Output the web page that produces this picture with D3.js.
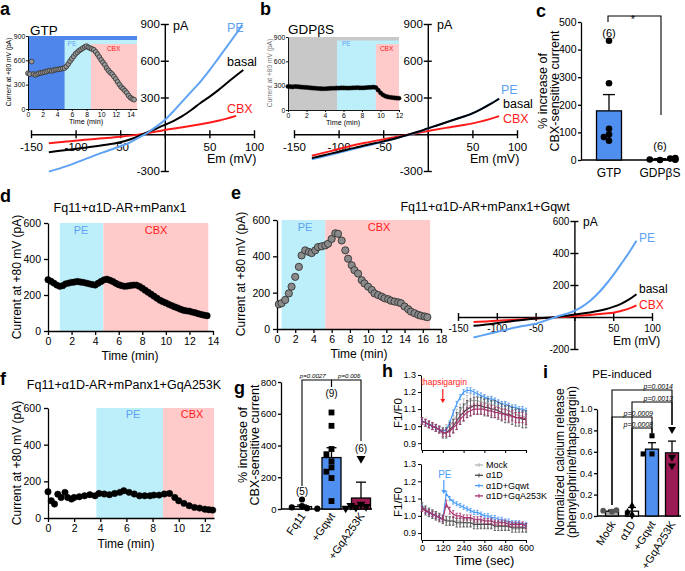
<!DOCTYPE html>
<html><head><meta charset="utf-8">
<script src="https://cdn.jsdelivr.net/npm/d3@7/dist/d3.min.js"></script>
<style>
html,body{margin:0;padding:0;background:#fff;}
svg{display:block;font-family:"Liberation Sans",Arial,Helvetica,sans-serif;}
</style></head><body>
<svg id="chart" width="685" height="571"></svg>
<script>
// ======================= DATA =======================
// a – inset: current at +80 mV vs time (GTP in pipette)
const aInsetTime = [0,0.25,0.5,0.75,1,1.25,1.5,1.75,2,2.25,2.5,2.75,3,3.25,3.5,3.75,4,4.25,4.5,4.75,5,5.25,5.5,5.75,6,6.25,6.5,6.75,7,7.25,7.5,7.75,8,8.25,8.5,8.75,9,9.25,9.5,9.75,10,10.25,10.5,10.75,11,11.25,11.5,11.75,12,12.25,12.5,12.75,13,13.25,13.5,13.75,14,14.25,14.5];
const aInsetCurrent = [440,430,585,430,420,430,440,445,450,455,460,470,475,470,478,485,488,490,495,500,505,525,555,590,620,650,680,700,720,735,750,765,775,760,750,740,730,705,675,640,605,575,545,505,475,450,430,400,370,335,300,270,250,225,200,165,140,125,115];
const aPhaseStart = [0, 5, 8.6];        // GTP, PE, CBX (min)
const aInsetEnd = 14.9;
// a – I-V curves [Em (mV), I (pA)]
const ivA_PE    = [[-130,-305],[-110,-260],[-90,-205],[-70,-150],[-50,-98],[-40,-70],[-30,-30],[-20,10],[-10,60],[0,116],[10,190],[20,270],[30,350],[40,430],[50,521],[60,620],[70,720],[80,820],[87,895]];
const ivA_Basal = [[-130,-146],[-110,-128],[-90,-110],[-70,-90],[-50,-65],[-40,-45],[-30,-18],[-20,15],[-10,45],[0,76],[10,110],[20,150],[30,200],[40,255],[50,305],[60,360],[70,420],[80,480],[88,525]];
const ivA_CBX   = [[-130,-73],[-110,-60],[-90,-45],[-70,-33],[-50,-20],[-30,-3],[-20,8],[0,35],[20,57],[40,82],[60,110],[80,150]];

// b – inset (GDPβS)
const bInsetTime = [0,0.25,0.5,0.75,1,1.25,1.5,1.75,2,2.25,2.5,2.75,3,3.25,3.5,3.75,4,4.25,4.5,4.75,5,5.25,5.5,5.75,6,6.25,6.5,6.75,7,7.25,7.5,7.75,8,8.25,8.5,8.75,9,9.25,9.5,9.75,10,10.25,10.5,10.75,11,11.25,11.5,11.75,12];
const bInsetCurrent = [290,288,285,290,288,285,282,280,278,275,272,270,268,265,263,262,262,264,266,268,268,270,270,272,272,271,270,271,273,274,275,273,272,274,276,278,279,282,276,245,212,188,172,163,157,153,150,147,145];
const bPhaseStart = [0, 5.3, 9.5];
const bInsetEnd = 12;
const ivB_PE    = [[-130,-205],[-110,-170],[-90,-133],[-70,-97],[-50,-62],[-30,-22],[-10,20],[0,47],[10,72],[30,120],[50,170],[60,207],[70,248],[80,292]];
const ivB_Basal = [[-130,-195],[-110,-160],[-90,-125],[-70,-90],[-50,-58],[-30,-20],[-10,22],[0,48],[10,72],[30,120],[50,170],[60,205],[70,245],[80,290]];
const ivB_CBX   = [[-130,-175],[-110,-140],[-90,-102],[-70,-70],[-50,-42],[-30,-15],[-20,0],[0,27],[20,52],[40,75],[60,105],[80,148]];

// c – % increase of CBX-sensitive current
const cGroups = ["GTP","GDPβS"];
const cMean = [178, 3];
const cSem  = [59, 2];
const cPoints = [[432,278,113,92,83,70],[0,2,5,3,7,1]];
const cN = ["(6)","(6)"];

// d – Fq11+α1D-AR+mPanx1
const dTime = [0,0.25,0.5,0.75,1,1.25,1.5,1.75,2,2.25,2.5,2.75,3,3.25,3.5,3.75,4,4.25,4.5,4.75,5,5.25,5.5,5.75,6,6.25,6.5,6.75,7,7.25,7.5,7.75,8,8.25,8.5,8.75,9,9.25,9.5,9.75,10,10.25,10.5,10.75,11,11.25,11.5,11.75,12,12.25,12.5,12.75,13,13.25,13.5];
const dCurrent = [285,276,266,255,248,252,262,266,270,272,275,272,270,266,262,258,255,265,275,284,288,282,275,265,257,252,248,250,253,255,255,248,238,226,215,204,193,182,171,163,156,148,141,134,128,121,115,112,110,105,101,96,92,88,85];
const dPE = [1, 4.7], dCBX = [4.7, 13.6];

// e – Fq11+α1D-AR+mPanx1+Gqwt
const eTime = [0.2,0.5,0.9,1.3,1.6,2.0,2.4,2.7,3.1,3.5,3.8,4.2,4.5,4.9,5.3,5.6,6.0,6.4,6.7,7.1,7.5,7.8,8.2,8.5,8.9,9.3,9.6,10.0,10.4,10.7,11.1,11.5,11.8,12.2,12.5,12.9,13.3,13.6,14.0,14.4,14.7,15.1,15.5,15.8,16.2,16.5];
const eCurrent = [136,142,160,196,233,287,342,405,433,424,418,433,451,455,460,469,496,527,524,487,433,387,351,324,305,269,251,233,215,196,187,178,169,164,156,151,147,142,124,109,96,87,78,73,69,65];
const ePE = [0.5, 5.3], eCBX = [5.3, 16.8];
const ivE_PE    = [[-130,-128],[-110,-105],[-90,-82],[-70,-60],[-50,-42],[-30,-10],[-20,6],[-10,20],[0,38],[10,65],[20,100],[30,145],[40,200],[50,262],[60,330],[70,400],[80,477]];
const ivE_Basal = [[-130,-55],[-110,-45],[-90,-32],[-70,-20],[-50,-10],[-30,-3],[-10,8],[0,15],[20,28],[40,48],[50,63],[60,82],[70,108],[80,142]];
const ivE_CBX   = [[-130,-32],[-110,-27],[-90,-20],[-70,-15],[-50,-10],[-30,-4],[-10,2],[0,6],[20,13],[40,22],[50,27],[60,38],[70,52],[80,73]];

// f – Fq11+α1D-AR+mPanx1+GqA253K
const fTime = [0,0.25,0.5,0.75,1.0,1.3,1.5,1.8,2.0,2.4,2.8,3.2,3.6,3.9,4.3,4.7,5.1,5.5,5.8,6.2,6.6,7.0,7.4,7.8,8.1,8.5,8.9,9.3,9.7,10.0,10.4,10.8,11.2,11.6,12.0,12.3,12.6];
const fCurrent = [143,94,76,130,112,140,112,103,112,116,121,127,121,134,131,127,134,140,149,140,131,121,121,121,125,125,131,134,112,94,80,67,58,54,48,45,43];
const fPE = [3.7, 8.8], fCBX = [8.8, 12.7];

// g – % increase of CBX-sensitive current
const gGroups = ["Fq11","+Gqwt","+GqA253K"];
const gMean = [15, 324, 69];
const gSem  = [10, 62, 100];
const gPoints = [[60,18,10,5,2],[608,524,378,345,300,262,235,195,50],[318,30,22,15,10,5]];
const gN = ["(5)","(9)","(6)"];
const gP = ["p=0.0027","p=0.006"];

// h – F1/F0 time courses (sec)
const hTime = [0,20,40,60,80,100,120,140,160,180,200,220,240,260,280,300,320,340,360,380,400,420,440,460,480,500,520,540,560,580,600];
const hSeries = ["Mock","α1D","α1D+Gqwt","α1D+GqA253K"];
const hTopMock  = [1.03,1.02,1.01,1.00,0.99,0.98,0.97,0.98,1.00,1.03,1.06,1.09,1.12,1.14,1.15,1.15,1.15,1.14,1.14,1.13,1.13,1.12,1.11,1.10,1.10,1.09,1.08,1.07,1.06,1.06,1.05];
const hTopMockErr = [0.02,0.02,0.02,0.02,0.02,0.02,0.02,0.03,0.03,0.03,0.04,0.04,0.04,0.04,0.04,0.04,0.04,0.04,0.04,0.04,0.04,0.04,0.04,0.04,0.04,0.04,0.04,0.04,0.04,0.04,0.04];
const hTopA1D   = [1.03,1.02,1.01,1.00,0.99,0.98,0.96,0.96,0.98,1.00,1.03,1.06,1.08,1.10,1.11,1.12,1.12,1.12,1.11,1.11,1.10,1.10,1.09,1.08,1.07,1.07,1.06,1.05,1.05,1.04,1.04];
const hTopA1DErr = [0.02,0.02,0.02,0.02,0.02,0.02,0.03,0.03,0.04,0.04,0.05,0.05,0.05,0.05,0.05,0.05,0.05,0.05,0.05,0.05,0.05,0.05,0.05,0.05,0.05,0.05,0.05,0.05,0.05,0.05,0.05];
const hTopGqwt  = [1.03,1.02,1.01,1.00,0.99,0.98,0.97,0.98,1.02,1.08,1.13,1.17,1.20,1.21,1.21,1.20,1.19,1.18,1.17,1.16,1.16,1.15,1.14,1.13,1.13,1.12,1.11,1.11,1.10,1.10,1.09];
const hTopGqwtErr = [0.01,0.01,0.01,0.01,0.01,0.01,0.01,0.01,0.01,0.015,0.015,0.015,0.015,0.015,0.015,0.015,0.015,0.015,0.015,0.015,0.015,0.015,0.015,0.015,0.015,0.015,0.015,0.015,0.015,0.015,0.015];
const hTopGqA   = [1.03,1.02,1.01,1.00,0.99,0.98,0.96,0.96,0.97,0.99,1.01,1.04,1.06,1.08,1.09,1.10,1.10,1.10,1.10,1.09,1.09,1.08,1.08,1.07,1.07,1.06,1.06,1.05,1.05,1.05,1.04];
const hTopGqAErr = [0.02,0.02,0.02,0.02,0.02,0.02,0.02,0.02,0.03,0.03,0.03,0.03,0.03,0.03,0.03,0.03,0.03,0.03,0.03,0.03,0.03,0.03,0.03,0.03,0.03,0.03,0.03,0.03,0.03,0.03,0.03];
const hBotMock  = [1.06,1.04,1.02,1.01,1.00,0.99,0.98,0.98,0.97,0.97,0.97,0.97,0.96,0.96,0.96,0.96,0.96,0.95,0.95,0.95,0.95,0.95,0.95,0.94,0.94,0.94,0.94,0.94,0.94,0.93,0.93];
const hBotMockErr = [0.02,0.02,0.02,0.02,0.02,0.02,0.02,0.02,0.02,0.02,0.02,0.02,0.02,0.02,0.02,0.02,0.02,0.02,0.02,0.02,0.02,0.02,0.02,0.02,0.02,0.02,0.02,0.02,0.02,0.02,0.02];
const hBotA1D   = [1.05,1.03,1.02,1.01,1.00,0.99,0.98,0.97,0.97,0.97,0.96,0.96,0.96,0.96,0.96,0.95,0.95,0.95,0.95,0.95,0.95,0.94,0.94,0.94,0.94,0.94,0.93,0.93,0.93,0.93,0.93];
const hBotA1DErr = [0.025,0.025,0.025,0.025,0.025,0.025,0.025,0.025,0.025,0.025,0.025,0.025,0.025,0.025,0.025,0.025,0.025,0.025,0.025,0.025,0.025,0.025,0.025,0.025,0.025,0.025,0.025,0.025,0.025,0.025,0.025];
const hBotGqwt  = [1.05,1.03,1.02,1.01,1.00,0.99,0.98,1.13,1.10,1.08,1.07,1.06,1.05,1.04,1.03,1.02,1.02,1.01,1.00,1.00,0.99,0.99,0.98,0.98,0.97,0.97,0.96,0.96,0.96,0.95,0.95];
const hBotGqwtErr = [0.012,0.012,0.012,0.012,0.012,0.012,0.012,0.012,0.012,0.012,0.012,0.012,0.012,0.012,0.012,0.012,0.012,0.012,0.012,0.012,0.012,0.012,0.012,0.012,0.012,0.012,0.012,0.012,0.012,0.012,0.012];
const hBotGqA   = [1.04,1.03,1.02,1.01,1.00,0.99,0.98,1.07,1.03,1.01,1.00,1.00,0.99,0.99,0.99,0.98,0.98,0.98,0.97,0.97,0.97,0.96,0.96,0.96,0.96,0.95,0.95,0.95,0.95,0.95,0.94];
const hBotGqAErr = [0.015,0.015,0.015,0.015,0.015,0.015,0.015,0.02,0.02,0.02,0.015,0.015,0.015,0.015,0.015,0.015,0.015,0.015,0.015,0.015,0.015,0.015,0.015,0.015,0.015,0.015,0.015,0.015,0.015,0.015,0.015];
const hTicksX = [0,120,240,360,480,600];
const hTicksY = [0.9,1.0,1.1,1.2,1.3];

// i – PE-induced normalized calcium release
const iGroups = ["Mock","α1D","+Gqwt","+GqA253K"];
const iMean = [0.045, 0.045, 0.625, 0.59];
const iSem  = [0.01, 0.035, 0.06, 0.11];
const iPoints = [[0.04,0.05,0.055],[0.01,0.03,0.09],[0.75,0.58,0.58],[0.81,0.55,0.47]];
const iPairs = [["Mock","+GqA253K","p=0.0014"],["α1D","+GqA253K","p=0.0013"],["Mock","+Gqwt","p=0.0009"],["α1D","+Gqwt","p=0.0008"]];

// ======================= DRAWING =======================
const svg = d3.select("#chart");
const FONT = '"Liberation Sans", Arial, Helvetica, sans-serif';
const COL = {pe:"#5ea2f4", peBg:"#bdeffb", cbxBg:"#ffcaca", red:"#ff1a1a", gtpBg:"#4f86ec",
             gdpBg:"#c8c8c8", bar:"#4f8ff0", mag:"#9c1b52", mock:"#b3b3b3", a1d:"#4a4a4a",
             gqwt:"#4d9cf7", gqa:"#a8336e"};

function label(x, y, s, o = {}) {
  const t = svg.append("text").attr("x", x).attr("y", y).text(s)
    .attr("font-size", o.size || 11).attr("fill", o.fill || "#000")
    .attr("text-anchor", o.anchor || "start");
  if (o.bold) t.attr("font-weight", "bold");
  if (o.italic) t.attr("font-style", "italic");
  if (o.rot !== undefined) t.attr("transform", `rotate(${o.rot},${x},${y})`);
  return t;
}
function styleAxis(g, size, w) {
  g.attr("font-family", FONT).attr("font-size", size);
  g.selectAll("path,line").attr("stroke", "#000").attr("stroke-width", w);
  g.selectAll("text").attr("fill", "#000");
  return g;
}
const fmtInt = d => (d === 0 ? "" : String(d));

// ---------- I-V panels ----------
function ivPanel(o) {
  const x = d3.scaleLinear().domain([-150, 100]).range(o.xr);
  const y = d3.scaleLinear().domain(o.yd).range(o.yr);
  const line = d3.line().x(d => x(d[0])).y(d => y(d[1])).curve(d3.curveMonotoneX);
  const gx = svg.append("g").attr("transform", `translate(0,${y(0)})`)
    .call(d3.axisBottom(x).tickValues([-150, -100, -50, 0, 50, 100]).tickSizeInner(4).tickSizeOuter(0)
      .tickPadding(o.xpad).tickFormat(fmtInt));
  gx.selectAll(".tick line").attr("y1", -4).attr("y2", 4);
  styleAxis(gx, o.fs, 1.4);
  const gy = svg.append("g").attr("transform", `translate(${x(0)},0)`)
    .call(d3.axisLeft(y).tickValues(o.yt).tickSizeInner(4).tickSizeOuter(0).tickPadding(1).tickFormat(fmtInt));
  gy.selectAll(".tick line").attr("x1", -4).attr("x2", 4);
  styleAxis(gy, o.fs, 1.4);
  o.curves.forEach(c => svg.append("path").datum(c.data).attr("d", line)
    .attr("fill", "none").attr("stroke", c.color).attr("stroke-width", 2));
  return {x, y};
}

// ---------- time-course panels ----------
function tracePanel(o) {
  const x = d3.scaleLinear().domain(o.xd).range(o.xr);
  const y = d3.scaleLinear().domain(o.yd).range(o.yr);
  const g = svg.append("g");
  o.phases.forEach((p, i) => {
    const top = o.layered ? o.yr[1] + i * o.layered : y(o.yd[1]);
    g.append("rect").attr("x", x(p.from)).attr("y", top)
      .attr("width", x(p.to) - x(p.from)).attr("height", o.yr[0] - top).attr("fill", p.color);
  });
  const gx = g.append("g").attr("transform", `translate(0,${o.yr[0]})`)
    .call(d3.axisBottom(x).tickValues(o.xt).tickSizeInner(o.tick).tickSizeOuter(0).tickPadding(o.pad));
  styleAxis(gx, o.fs, o.sw);
  const gy = g.append("g").attr("transform", `translate(${o.xr[0]},0)`)
    .call(d3.axisLeft(y).tickValues(o.yt).tickSizeInner(o.tick).tickSizeOuter(0).tickPadding(o.pad));
  styleAxis(gy, o.fs, o.sw);
  g.append("g").selectAll("circle").data(d3.zip(o.t, o.v)).join("circle")
    .attr("cx", d => x(d[0])).attr("cy", d => y(d[1])).attr("r", o.r)
    .attr("fill", o.fill).attr("stroke", o.stroke).attr("stroke-width", o.psw);
  return {x, y};
}

// ---------- bar panels ----------
function swarm(vals, y, r) {
  const placed = [];
  return vals.map(v => {
    const py = y(v); let dx = 0;
    for (const k of [0, -1, 1, -2, 2, -3, 3]) {
      dx = k * r * 1.7;
      if (!placed.some(p => Math.hypot(p[0] - dx, p[1] - py) < r * 1.8)) break;
    }
    placed.push([dx, py]);
    return [dx, py];
  });
}
function barPanel(o) {
  const x = d3.scalePoint().domain(o.groups).range(o.xr);
  const y = d3.scaleLinear().domain(o.yd).range(o.yr);
  const g = svg.append("g");
  const gy = g.append("g").attr("transform", `translate(${o.axisX},0)`)
    .call(d3.axisLeft(y).tickValues(o.yt).tickSizeInner(3).tickSizeOuter(0).tickPadding(1.5).tickFormat(o.fmt));
  styleAxis(gy, o.fs, 1.3);
  const gx = g.append("g").attr("transform", `translate(0,${y(0)})`)
    .call(d3.axisBottom(x).tickSize(0).tickFormat(""));
  gx.select(".domain").attr("d", `M${o.axisX},0H${o.axisEnd}`);
  styleAxis(gx, o.fs, 1.3);
  o.groups.forEach((k, i) => {
    const cx = x(k), m = o.mean[i], s = o.sem[i];
    g.append("line").attr("x1", cx).attr("x2", cx).attr("y1", y(m)).attr("y2", y(m + s))
      .attr("stroke", "#000").attr("stroke-width", 1.3);
    g.append("line").attr("x1", cx - o.cap).attr("x2", cx + o.cap).attr("y1", y(m + s)).attr("y2", y(m + s))
      .attr("stroke", "#000").attr("stroke-width", 1.3);
    g.append("rect").attr("x", cx - o.bw / 2).attr("y", y(m)).attr("width", o.bw)
      .attr("height", Math.max(0, y(0) - y(m))).attr("fill", o.fills[i])
      .attr("stroke", "#000").attr("stroke-width", 1.3);
    const pos = swarm(o.points[i], y, o.r);
    g.append("g").selectAll("path").data(pos).join("path")
      .attr("d", d3.symbol().type(o.symbols[i].type).size(o.symbols[i].size))
      .attr("fill", o.symbols[i].fill || "#000")
      .attr("transform", d => `translate(${cx + d[0]},${d[1]})` + (o.symbols[i].flip ? " rotate(180)" : ""));
  });
  return {x, y};
}
function bracket(x1, x2, yTop, y1b, y2b) {
  svg.append("path").attr("d", `M${x1},${y1b}V${yTop}H${x2}V${y2b}`)
    .attr("fill", "none").attr("stroke", "#000").attr("stroke-width", 1.1);
}

// ======================= PANEL a =======================
label(0, 15, "a", {size: 18, bold: true});
const ivA = ivPanel({xr: [31, 254], yd: [-300, 900], yr: [171, 24], yt: [900, 600, 300, -300], fs: 11.5, xpad: 5,
  curves: [{data: ivA_CBX, color: COL.red}, {data: ivA_Basal, color: "#000"}, {data: ivA_PE, color: COL.pe}]});
label(173, 30, "pA", {size: 12.5});
label(227, 32, "PE", {size: 12.5, fill: COL.pe});
label(227, 66, "basal", {size: 12.5});
label(227, 113, "CBX", {size: 12.5, fill: COL.red});
label(207, 163, "Em (mV)", {size: 12.5});

const aCols = [COL.gtpBg, COL.peBg, COL.cbxBg];
const inA = tracePanel({xd: [0, aInsetEnd], xr: [28, 137], yd: [0, 900], yr: [109, 36],
  xt: [0, 2, 4, 6, 8, 10, 12, 14], yt: [0, 300, 600, 900], tick: 2, pad: 0.8, fs: 6.8, sw: 0.9,
  layered: 4, phases: aPhaseStart.map((s, i) => ({from: s, to: aInsetEnd, color: aCols[i]})),
  t: aInsetTime, v: aInsetCurrent, r: 2.4, fill: "#9a9a9a", stroke: "#3a3a3a", psw: 0.9});
label(30, 35, "GTP", {size: 13.5});
label(inA.x(aPhaseStart[1]) + 3, 46, "PE", {size: 6.5, fill: COL.pe});
label(inA.x(aPhaseStart[2]) + 16, 51, "CBX", {size: 6.5, fill: COL.red});
label(86, 124, "Time (min)", {size: 7.2, anchor: "middle"});
label(11, 72, "Current at +80 mV (pA)", {size: 6.6, anchor: "middle", rot: -90});

// ======================= PANEL b =======================
label(260, 15, "b", {size: 18, bold: true});
const ivB = ivPanel({xr: [294, 517], yd: [-300, 900], yr: [171, 24], yt: [900, 600, 300, -300], fs: 11.5, xpad: 5,
  curves: [{data: ivB_CBX, color: COL.red}, {data: ivB_PE, color: COL.pe}, {data: ivB_Basal, color: "#000"}]});
label(437, 29, "pA", {size: 12.5});
label(501, 94, "PE", {size: 12.5, fill: COL.pe});
label(503, 108, "basal", {size: 12.5});
label(503, 123, "CBX", {size: 12.5, fill: COL.red});
label(470, 163, "Em (mV)", {size: 12.5});

const bCols = [COL.gdpBg, COL.peBg, COL.cbxBg];
const inB = tracePanel({xd: [0, bInsetEnd], xr: [288, 399], yd: [0, 900], yr: [110, 37],
  xt: [0, 2, 4, 6, 8, 10, 12], yt: [0, 300, 600, 900], tick: 2, pad: 0.8, fs: 6.8, sw: 0.9,
  layered: 3.5, phases: bPhaseStart.map((s, i) => ({from: s, to: bInsetEnd, color: bCols[i]})),
  t: bInsetTime, v: bInsetCurrent, r: 2.1, fill: "#000", stroke: "#000", psw: 0.5});
label(288, 34, "GDPβS", {size: 13.5});
label(inB.x(bPhaseStart[1]) + 5, 46, "PE", {size: 6.5, fill: COL.pe});
label(inB.x(bPhaseStart[2]) + 4, 51, "CBX", {size: 6.5, fill: COL.red});
label(343, 125, "Time (min)", {size: 7.2, anchor: "middle"});
label(272, 73, "Current at +80 mV (pA)", {size: 6.6, anchor: "middle", rot: -90, fill: "#777"});

// ======================= PANEL c =======================
label(536, 17, "c", {size: 18, bold: true});
const cPan = barPanel({groups: cGroups, xr: [609, 660], yd: [0, 500], yr: [160, 22], yt: [0, 100, 200, 300, 400, 500],
  fmt: d => d, fs: 10.5, axisX: 581, axisEnd: 678, bw: 25, cap: 6, mean: cMean, sem: cSem,
  fills: [COL.bar, "#fff"], points: cPoints, r: 3,
  symbols: [{type: d3.symbolCircle, size: 34}, {type: d3.symbolCircle, size: 34}]});
cGroups.forEach(k => label(cPan.x(k), 177, k, {size: 12, anchor: "middle"}));
label(cPan.x("GTP"), 37, cN[0], {size: 11, anchor: "middle"});
label(cPan.x("GDPβS"), 150, cN[1], {size: 11, anchor: "middle"});
bracket(cPan.x("GTP") - 1, cPan.x("GDPβS") + 1, 16, 22, 115);
label(633, 23, "*", {size: 11, anchor: "middle"});
label(547, 91, "% increase of", {size: 12.5, anchor: "middle", rot: -90});
label(559, 91, "CBX-sensitive current", {size: 12.5, anchor: "middle", rot: -90});

// ======================= PANEL d =======================
label(0, 202, "d", {size: 18, bold: true});
tracePanel({xd: [0, 14], xr: [48, 213], yd: [0, 600], yr: [331, 223],
  xt: [0, 2, 4, 6, 8, 10, 12, 14], yt: [0, 200, 400, 600], tick: 4, pad: 3, fs: 10.5, sw: 1.3,
  phases: [{from: dPE[0], to: dPE[1], color: COL.peBg}, {from: dCBX[0], to: dCBX[1], color: COL.cbxBg}],
  t: dTime, v: dCurrent, r: 3.2, fill: "#000", stroke: "#000", psw: 0.5});
label(120, 212, "Fq11+α1D-AR+mPanx1", {size: 12.5, anchor: "middle"});
label(81, 234, "PE", {size: 11, anchor: "middle", fill: COL.pe});
label(156, 234, "CBX", {size: 11, anchor: "middle", fill: COL.red});
label(130, 360, "Time (min)", {size: 12, anchor: "middle"});
label(21, 277, "Current at +80 mV (pA)", {size: 12, anchor: "middle", rot: -90});

// ======================= PANEL e =======================
label(231, 199, "e", {size: 18, bold: true});
tracePanel({xd: [0, 18], xr: [277, 441], yd: [0, 600], yr: [329, 220],
  xt: [0, 2, 4, 6, 8, 10, 12, 14, 16, 18], yt: [0, 200, 400, 600], tick: 4, pad: 3, fs: 10.5, sw: 1.3,
  phases: [{from: ePE[0], to: ePE[1], color: COL.peBg}, {from: eCBX[0], to: eCBX[1], color: COL.cbxBg}],
  t: eTime, v: eCurrent, r: 3.6, fill: "#8a8a8a", stroke: "#333", psw: 0.9});
label(485, 211, "Fq11+α1D-AR+mPanx1+Gqwt", {size: 12.5, anchor: "middle"});
label(305, 231, "PE", {size: 11, anchor: "middle", fill: COL.pe});
label(379, 231, "CBX", {size: 11, anchor: "middle", fill: COL.red});
label(359, 358, "Time (min)", {size: 12, anchor: "middle"});
label(245, 274, "Current at +80 mV (pA)", {size: 12, anchor: "middle", rot: -90});
ivPanel({xr: [458, 652], yd: [-200, 600], yr: [349, 221], yt: [600, 400, 200, -200], fs: 10, xpad: 4,
  curves: [{data: ivE_CBX, color: COL.red}, {data: ivE_Basal, color: "#000"}, {data: ivE_PE, color: COL.pe}]});
label(583, 226, "pA", {size: 12});
label(639, 242, "PE", {size: 12, fill: COL.pe});
label(639, 293, "basal", {size: 12});
label(639, 309, "CBX", {size: 12, fill: COL.red});
label(613, 345, "Em (mV)", {size: 12});

// ======================= PANEL f =======================
label(0, 385, "f", {size: 18, bold: true});
tracePanel({xd: [0, 12.7], xr: [48, 214], yd: [0, 600], yr: [518, 408],
  xt: [0, 2, 4, 6, 8, 10, 12], yt: [0, 200, 400, 600], tick: 4, pad: 3, fs: 10.5, sw: 1.3,
  phases: [{from: fPE[0], to: fPE[1], color: COL.peBg}, {from: fCBX[0], to: fCBX[1], color: COL.cbxBg}],
  t: fTime, v: fCurrent, r: 3.2, fill: "#000", stroke: "#000", psw: 0.5});
label(124, 389, "Fq11+α1D-AR+mPanx1+GqA253K", {size: 12.5, anchor: "middle"});
label(133, 418, "PE", {size: 11, anchor: "middle", fill: COL.pe});
label(192, 418, "CBX", {size: 11, anchor: "middle", fill: COL.red});
label(126, 548, "Time (min)", {size: 12, anchor: "middle"});
label(21, 463, "Current at +80 mV (pA)", {size: 12, anchor: "middle", rot: -90});

// ======================= PANEL g =======================
label(234, 394, "g", {size: 18, bold: true});
const gPan = barPanel({groups: gGroups, xr: [302, 361], yd: [0, 800], yr: [509, 382], yt: [0, 200, 400, 600, 800],
  fmt: d => d, fs: 9.5, axisX: 281, axisEnd: 372, bw: 19, cap: 5, mean: gMean, sem: gSem,
  fills: ["#fff", COL.bar, COL.mag], points: gPoints, r: 3,
  symbols: [{type: d3.symbolCircle, size: 30}, {type: d3.symbolSquare, size: 34}, {type: d3.symbolTriangle, size: 34, flip: true}]});
gGroups.forEach(k => label(gPan.x(k) + 4, 516, k, {size: 11, anchor: "end", rot: -55}));
label(gPan.x("Fq11"), 495, gN[0], {size: 10, anchor: "middle"});
label(gPan.x("+Gqwt"), 397, gN[1], {size: 10, anchor: "middle"});
label(gPan.x("+GqA253K"), 452, gN[2], {size: 10, anchor: "middle"});
bracket(gPan.x("Fq11"), gPan.x("+Gqwt"), 380, 486, 387);
bracket(gPan.x("+Gqwt"), gPan.x("+GqA253K"), 380, 387, 441);
label((gPan.x("Fq11") + gPan.x("+Gqwt")) / 2 - 4, 377.5, gP[0], {size: 6.2, anchor: "middle", italic: true});
label((gPan.x("+Gqwt") + gPan.x("+GqA253K")) / 2 + 3, 377.5, gP[1], {size: 6.2, anchor: "middle", italic: true});
label(247, 445, "% increase of", {size: 12.5, anchor: "middle", rot: -90});
label(259, 445, "CBX-sensitive current", {size: 12.5, anchor: "middle", rot: -90});

// ======================= PANEL h =======================
label(382, 377, "h", {size: 18, bold: true});
function hPanel(o) {
  const x = d3.scaleLinear().domain([0, 600]).range([422, 526]);
  const y = d3.scaleLinear().domain([0.86, 1.3]).range(o.yr);
  const g = svg.append("g");
  const gy = g.append("g").attr("transform", `translate(${x(0) - 1},0)`)
    .call(d3.axisLeft(y).tickValues(hTicksY).tickFormat(d3.format(".1f")).tickSizeInner(3).tickSizeOuter(0).tickPadding(2));
  styleAxis(gy, 9, 1);
  const gx = g.append("g").attr("transform", `translate(0,${o.yr[0]})`)
    .call(d3.axisBottom(x).tickValues(hTicksX).tickSizeInner(3).tickSizeOuter(0).tickPadding(2)
      .tickFormat(o.showX ? (d => d) : ""));
  styleAxis(gx, 9, 1);
  o.series.forEach(s => {
    const pts = d3.zip(hTime, s.v, s.e);
    const eg = g.append("g").attr("stroke", s.c).attr("stroke-width", 0.8);
    eg.selectAll("line.v").data(pts).join("line").attr("class", "v")
      .attr("x1", d => x(d[0])).attr("x2", d => x(d[0])).attr("y1", d => y(d[1] - d[2])).attr("y2", d => y(d[1] + d[2]));
    eg.selectAll("line.c").data(pts).join("line").attr("class", "c")
      .attr("x1", d => x(d[0]) - 1.2).attr("x2", d => x(d[0]) + 1.2).attr("y1", d => y(d[1] + d[2])).attr("y2", d => y(d[1] + d[2]));
    eg.selectAll("line.b").data(pts).join("line").attr("class", "b")
      .attr("x1", d => x(d[0]) - 1.2).attr("x2", d => x(d[0]) + 1.2).attr("y1", d => y(d[1] - d[2])).attr("y2", d => y(d[1] - d[2]));
    g.append("path").datum(pts).attr("d", d3.line().x(d => x(d[0])).y(d => y(d[1])))
      .attr("fill", "none").attr("stroke", s.c).attr("stroke-width", 1.2);
  });
  return {x, y};
}
const hTop = hPanel({yr: [450, 375], showX: false, series: [
  {v: hTopMock, e: hTopMockErr, c: COL.mock}, {v: hTopGqwt, e: hTopGqwtErr, c: COL.gqwt},
  {v: hTopA1D, e: hTopA1DErr, c: COL.a1d}, {v: hTopGqA, e: hTopGqAErr, c: COL.gqa}]});
const hBot = hPanel({yr: [540, 464], showX: true, series: [
  {v: hBotMock, e: hBotMockErr, c: COL.mock}, {v: hBotGqwt, e: hBotGqwtErr, c: COL.gqwt},
  {v: hBotA1D, e: hBotA1DErr, c: COL.a1d}, {v: hBotGqA, e: hBotGqAErr, c: COL.gqa}]});
function arrow(x, y1, y2, color) {
  svg.append("line").attr("x1", x).attr("x2", x).attr("y1", y1).attr("y2", y2 - 3).attr("stroke", color).attr("stroke-width", 1.2);
  svg.append("path").attr("d", `M${x - 2.5},${y2 - 4}L${x + 2.5},${y2 - 4}L${x},${y2}Z`).attr("fill", color);
}
label(hTop.x(120) + 1, 385, "thapsigargin", {size: 8.5, anchor: "middle", fill: COL.red});
arrow(hTop.x(120), 389, 403, COL.red);
label(hBot.x(120) + 2, 478, "PE", {size: 10, anchor: "middle", fill: COL.gqwt});
arrow(hBot.x(120) + 1, 480, 494, COL.gqwt);
label(402, 413, "F1/F0", {size: 11.5, anchor: "middle", rot: -90});
label(402, 502, "F1/F0", {size: 11.5, anchor: "middle", rot: -90});
label(484, 565, "Time (sec)", {size: 13, anchor: "middle"});
const legCols = [COL.mock, COL.a1d, COL.gqwt, COL.gqa];
hSeries.forEach((s, i) => {
  const yy = 465 + i * 10.3;
  svg.append("line").attr("x1", 475).attr("x2", 483).attr("y1", yy).attr("y2", yy).attr("stroke", legCols[i]).attr("stroke-width", 1.3);
  svg.append("line").attr("x1", 479).attr("x2", 479).attr("y1", yy - 2).attr("y2", yy + 2).attr("stroke", legCols[i]).attr("stroke-width", 1);
  label(486, yy + 3, s, {size: 9});
});

// ======================= PANEL i =======================
label(543, 378, "i", {size: 18, bold: true});
const iPan = barPanel({groups: iGroups, xr: [612, 672], yd: [0, 1], yr: [516, 409], yt: [0, 0.2, 0.4, 0.6, 0.8, 1.0],
  fmt: d3.format(".1f"), fs: 9, axisX: 597, axisEnd: 681, bw: 13, cap: 4, mean: iMean, sem: iSem,
  fills: ["#a8a8a8", "#fff", COL.bar, COL.mag], points: iPoints, r: 2.6,
  symbols: [{type: d3.symbolCircle, size: 26, fill: "#555"}, {type: d3.symbolDiamond, size: 26},
            {type: d3.symbolSquare, size: 26}, {type: d3.symbolTriangle, size: 28, flip: true}]});
iGroups.forEach(k => label(iPan.x(k) + 4, 524, k, {size: 11, anchor: "end", rot: -58}));
label(622, 378, "PE-induced", {size: 11.5, anchor: "middle"});
const iLevels = [390, 402, 417, 428];
const iLegBottom = {"Mock": 505, "α1D": 508, "+Gqwt": 433, "+GqA253K": 425};
iPairs.forEach((p, k) => {
  bracket(iPan.x(p[0]), iPan.x(p[1]), iLevels[k], iLegBottom[p[0]], iLegBottom[p[1]]);
  label(iPan.x(p[1]) + 1, iLevels[k] - 1.5, p[2], {size: 7, anchor: "end", italic: true});
});
label(564, 462, "Normalized calcium release", {size: 12, anchor: "middle", rot: -90});
label(576, 462, "(phenylephrine/thapsigargin)", {size: 12, anchor: "middle", rot: -90});
</script>
</body></html>
